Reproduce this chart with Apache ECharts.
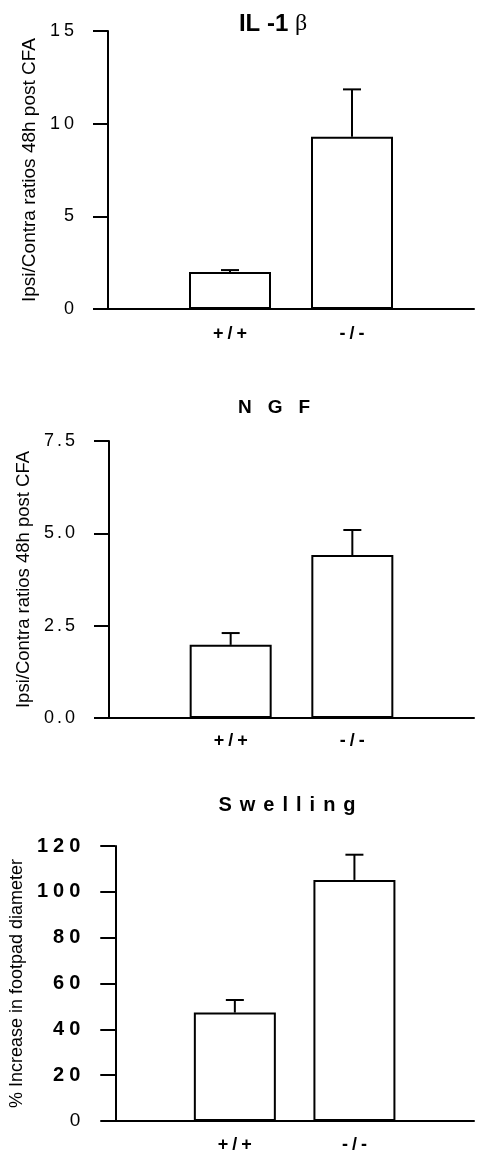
<!DOCTYPE html>
<html><head><meta charset="utf-8">
<script src="https://cdn.jsdelivr.net/npm/echarts@6/dist/echarts.min.js"></script>
<style>html,body{margin:0;padding:0;background:#fff}#c{width:477px;height:1156px}</style>
</head><body><div id="c"></div>
<script>
// ---- data ----
const categories = ['+/+', '-/-'];
const il1Means = [2.0, 9.3];
const il1Errors = [0.1, 2.55];
const ngfMeans = [1.98, 4.41];
const ngfErrors = [0.32, 0.68];
const swellMeans = [47.3, 105.2];
const swellErrors = [5.5, 11.0];
const il1Ticks = [0, 5, 10, 15];
const ngfTicks = [0, 2.5, 5, 7.5];
const swellTicks = [0, 20, 40, 60, 80, 100, 120];
const titles = ['IL -1 ', 'β', 'NGF', 'Swelling'];
const yNames = ['Ipsi/Contra ratios 48h post CFA', 'Ipsi/Contra ratios 48h post CFA', '% Increase in footpad diameter'];

// ---- helpers ----
const fam = 'Liberation Sans, Arial, sans-serif';
function spaced(str, first, rest) {
  return str.split('').map((c, i) => '{' + (i ? rest : first) + '|' + c + '}').join('');
}
const axisCats = [''].concat(categories).concat(['']);

const panels = [
  {grid: {left: 108, top: 31, width: 369, height: 278}, ticks: il1Ticks, means: il1Means, errs: il1Errors,
   name: yNames[0], nameSize: 19, nameGap: 66, fmt: v => String(v), yFont: 18, yWeight: 'normal', yGap: 4, yMargin: 34, xMargin: 16},
  {grid: {left: 109, top: 441, width: 372, height: 277}, ticks: ngfTicks, means: ngfMeans, errs: ngfErrors,
   name: yNames[1], nameSize: 18.5, nameGap: 74, fmt: v => v.toFixed(1), yFont: 18, yWeight: 'normal', yGap: 3, yMargin: 34, xMargin: 14},
  {grid: {left: 113, top: 846, width: 371, height: 275}, ticks: swellTicks, means: swellMeans, errs: swellErrors,
   name: yNames[2], nameSize: 18, nameGap: 81, fmt: v => String(v), yFont: 20, yWeight: 'bold', yGap: 5, yMargin: 35, xMargin: 15}
];

const grids = [], xAxes = [], yAxes = [], series = [];
panels.forEach((p, k) => {
  grids.push(p.grid);
  xAxes.push({
    type: 'category', gridIndex: k, data: axisCats, boundaryGap: false,
    axisLine: {lineStyle: {color: '#000', width: 2}},
    axisTick: {show: false},
    axisLabel: {
      margin: p.xMargin, interval: 0,
      formatter: v => v ? spaced(v, 'f', 'r') : '',
      rich: {
        f: {fontSize: 18, fontWeight: 'bold', fontFamily: fam, color: '#000'},
        r: {fontSize: 18, fontWeight: 'bold', fontFamily: fam, color: '#000', padding: [0, 0, 0, 4]}
      }
    },
    splitLine: {show: false}
  });
  const tk = p.ticks;
  yAxes.push({
    type: 'value', gridIndex: k, min: tk[0], max: tk[tk.length - 1], interval: tk[1] - tk[0],
    name: p.name, nameLocation: 'middle', nameGap: p.nameGap,
    nameTextStyle: {fontSize: p.nameSize, fontFamily: fam, color: '#000'},
    axisLine: {show: true, lineStyle: {color: '#000', width: 2}},
    axisTick: {show: true, length: 15, lineStyle: {color: '#000', width: 2}},
    splitLine: {show: false},
    axisLabel: {
      margin: p.yMargin,
      formatter: v => {
        const s = p.fmt(v);
        if (k === 2 && v === 0) return spaced(s, 'z', 'z');
        return spaced(s, 'f', 'r');
      },
      rich: {
        f: {fontSize: p.yFont, fontWeight: p.yWeight, fontFamily: fam, color: '#000'},
        r: {fontSize: p.yFont, fontWeight: p.yWeight, fontFamily: fam, color: '#000', padding: [0, 0, 0, p.yGap]},
        z: {fontSize: p.yFont - 1, fontWeight: 'normal', fontFamily: fam, color: '#000'}
      }
    }
  });
  series.push({
    type: 'bar', xAxisIndex: k, yAxisIndex: k, barWidth: 82,
    data: p.means.map((v, i) => [i + 1, v]),
    itemStyle: {color: '#fff', borderColor: '#000', borderWidth: 2},
    silent: true, z: 2
  });
  series.push({
    type: 'custom', xAxisIndex: k, yAxisIndex: k, z: 3, silent: true,
    data: p.means.map((v, i) => [i + 1, v, p.errs[i]]),
    renderItem: (params, api) => {
      const x = api.value(0), y = api.value(1), e = api.value(2);
      const p0 = api.coord([x, y]);
      const p1 = api.coord([x, y + e]);
      const half = 9;
      return {type: 'group', children: [
        {type: 'line', shape: {x1: p0[0], y1: p0[1], x2: p1[0], y2: p1[1]}, style: {stroke: '#000', lineWidth: 2}},
        {type: 'line', shape: {x1: p1[0] - half, y1: p1[1], x2: p1[0] + half, y2: p1[1]}, style: {stroke: '#000', lineWidth: 2}}
      ]};
    }
  });
});

const graphic = [
  {type: 'text', x: 273, y: 24, style: {
    text: '{b|' + titles[0] + '}{g|' + titles[1] + '}', align: 'center', verticalAlign: 'middle',
    rich: {b: {fontSize: 24, fontWeight: 'bold', fontFamily: fam, fill: '#000', color: '#000'},
           g: {fontSize: 24, fontFamily: 'Liberation Serif, serif', fill: '#000', color: '#000'}}
  }},
  {type: 'text', x: 274, y: 408, style: {
    text: spaced(titles[2], 'f', 'r'), align: 'center', verticalAlign: 'middle',
    rich: {f: {fontSize: 19, fontWeight: 'bold', fontFamily: fam, fill: '#000', color: '#000'},
           r: {fontSize: 19, fontWeight: 'bold', fontFamily: fam, fill: '#000', color: '#000', padding: [0, 0, 0, 16]}}
  }},
  {type: 'text', x: 287, y: 805, style: {
    text: spaced(titles[3], 'f', 'r'), align: 'center', verticalAlign: 'middle',
    rich: {f: {fontSize: 20, fontWeight: 'bold', fontFamily: fam, fill: '#000', color: '#000'},
           r: {fontSize: 20, fontWeight: 'bold', fontFamily: fam, fill: '#000', color: '#000', padding: [0, 0, 0, 8]}}
  }}
];

const chart = echarts.init(document.getElementById('c'), null, {renderer: 'canvas'});
chart.setOption({
  animation: false,
  backgroundColor: '#fff',
  grid: grids, xAxis: xAxes, yAxis: yAxes, series: series, graphic: graphic
});
</script>
</body></html>
